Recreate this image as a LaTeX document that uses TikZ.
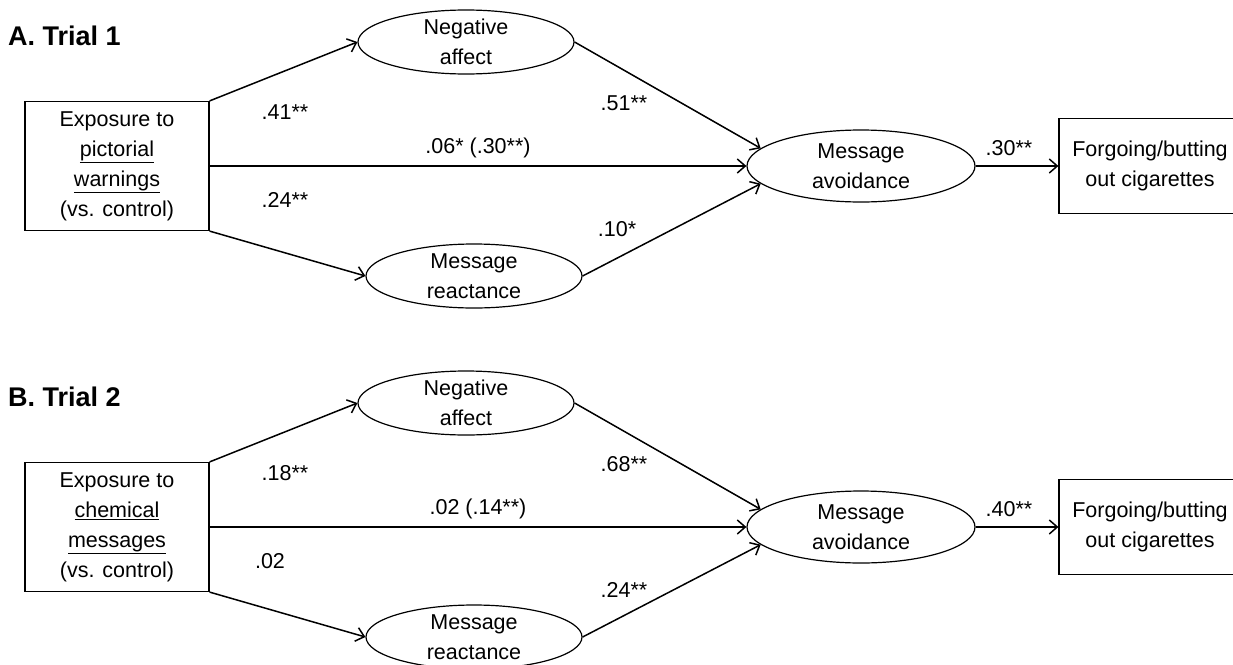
\documentclass[tikz,border=0pt]{standalone}
\usepackage{fontspec}
\setmainfont{Liberation Sans}
\usetikzlibrary{arrows.meta,positioning,shapes.geometric}

\begin{document}
\begin{tikzpicture}[
  x=1pt, y=-1pt,
  font=\fontsize{21.5}{30}\selectfont,
  obs/.style={rectangle, draw, line width=1.2pt, align=center, inner sep=0pt},
  lat/.style={ellipse, draw, line width=1.2pt, align=center, inner xsep=0pt, inner ysep=-3pt,
    minimum width=216pt, minimum height=64pt},
  arr/.style={-{Straight Barb[length=8pt, width=14pt, line width=1.5pt]}, line width=1.5pt},
  coef/.style={inner sep=0pt},
  panel/.style={anchor=west, inner sep=0pt, font=\fontsize{27}{30}\selectfont\bfseries}
]
\clip (0,0) rectangle (1233,664);

% A. Trial 1
\node[panel] (titleA) at (8,36) {A. Trial 1};
\node[obs, minimum width=184pt, minimum height=129pt] (exp1) at (117,166)
  {Exposure to\\\underline{pictorial}\\\underline{warnings}\\(vs. control)};
\node[lat] (neg1) at (466,42) {Negative\\affect};
\node[lat] (rea1) at (474,276) {Message\\reactance};
\node[lat, minimum width=228pt, minimum height=72pt] (avo1) at (861,166) {Message\\avoidance};
\node[obs, minimum width=182pt, minimum height=95pt] (out1) at (1150,166) {Forgoing/butting\\out cigarettes};

\draw[arr] (exp1.north east) -- (neg1.west);
\draw[arr] (exp1.east) -- (avo1.west);
\draw[arr] (exp1.south east) -- (rea1.west);
\draw[arr] (neg1.east) -- (avo1.170);
\draw[arr] (rea1.east) -- (avo1.190);
\draw[arr] (avo1.east) -- (out1.west);

\node[coef] (a41) at (285,112) {.41**};
\node[coef] (a06) at (478,148) {.06* (.30**)};
\node[coef] (a24) at (285,200) {.24**};
\node[coef] (a51) at (624,103) {.51**};
\node[coef] (a10) at (617,229) {.10*};
\node[coef] (a30) at (1009,148) {.30**};

% B. Trial 2
\begin{scope}[shift={(0,361)}]
\node[panel] (titleB) at (8,36) {B. Trial 2};
\node[obs, minimum width=184pt, minimum height=129pt] (exp2) at (117,166)
  {Exposure to\\\underline{chemical}\\\underline{messages}\\(vs. control)};
\node[lat] (neg2) at (466,42) {Negative\\affect};
\node[lat] (rea2) at (474,276) {Message\\reactance};
\node[lat, minimum width=228pt, minimum height=72pt] (avo2) at (861,166) {Message\\avoidance};
\node[obs, minimum width=182pt, minimum height=95pt] (out2) at (1150,166) {Forgoing/butting\\out cigarettes};

\draw[arr] (exp2.north east) -- (neg2.west);
\draw[arr] (exp2.east) -- (avo2.west);
\draw[arr] (exp2.south east) -- (rea2.west);
\draw[arr] (neg2.east) -- (avo2.170);
\draw[arr] (rea2.east) -- (avo2.190);
\draw[arr] (avo2.east) -- (out2.west);

\node[coef] (b18) at (285,112) {.18**};
\node[coef] (b02) at (478,148) {.02 (.14**)};
\node[coef] (b02r) at (270,200) {.02};
\node[coef] (b68) at (624,103) {.68**};
\node[coef] (b24) at (624,229) {.24**};
\node[coef] (b40) at (1009,148) {.40**};
\end{scope}
\end{tikzpicture}
\end{document}
